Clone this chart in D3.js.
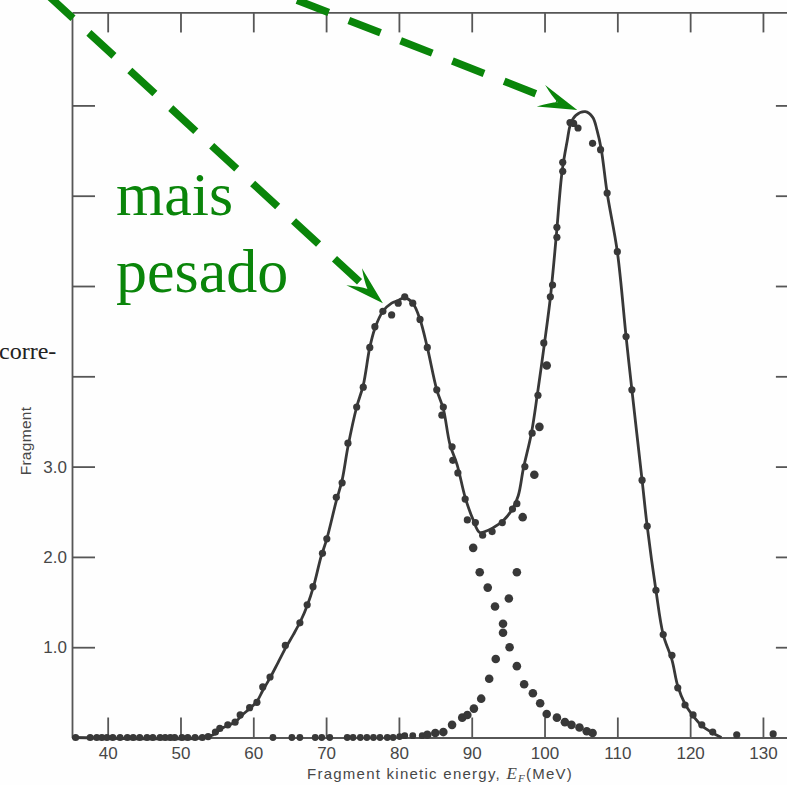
<!DOCTYPE html>
<html>
<head>
<meta charset="utf-8">
<script src="https://cdn.jsdelivr.net/npm/d3@7/dist/d3.min.js"></script>
<style>
  html, body { margin: 0; padding: 0; background: #fefefe; }
  svg { display: block; }
</style>
</head>
<body>
<svg id="chart" width="787" height="785"></svg>
<script>
// tick values
const xTicks = [40, 50, 60, 70, 80, 90, 100, 110, 120, 130];
const yTicks = [1, 2, 3, 4, 5, 6, 7];
const yTickLabels = ['1.0', '2.0', '3.0', '', '', '', ''];

// fitted total curve (E in MeV, relative yield)
const curveE = [35.1, 53.4, 54.5, 55.4, 56.4, 57.5, 58.5, 59.5, 60.5, 61.3, 62.3, 63.4, 64.5, 65.5, 66.5,
  67.4, 68.3, 69.3, 70.1, 71.4, 72.2, 73.0, 74.2, 75.1, 76.0, 76.7, 77.8, 79.0, 79.9, 80.8, 81.9, 82.9,
  83.9, 85.2, 86.1, 87.0, 88.0, 89.1, 90.2, 91.1, 92.1, 92.9, 94.3, 95.6, 96.4, 97.1, 98.2, 99.0, 100.0,
  100.8, 101.6, 102.4, 103.1, 103.6, 104.3, 105.6, 106.6, 107.2, 107.8, 108.6, 110.0, 111.2, 112.0,
  113.4, 114.1, 115.3, 116.3, 117.5, 118.3, 119.3, 120.4, 121.6, 123.1, 124.3];
const curveV = [0, 0, 0.03, 0.09, 0.13, 0.17, 0.25, 0.32, 0.40, 0.52, 0.66, 0.83, 1.00, 1.14, 1.29,
  1.46, 1.68, 2.00, 2.20, 2.62, 2.85, 3.22, 3.66, 3.90, 4.32, 4.53, 4.72, 4.81, 4.84, 4.87, 4.81, 4.63,
  4.32, 3.85, 3.64, 3.25, 3.02, 2.66, 2.41, 2.27, 2.29, 2.32, 2.40, 2.53, 2.68, 2.98, 3.37, 3.79, 4.37,
  4.87, 5.54, 6.26, 6.60, 6.80, 6.89, 6.93, 6.87, 6.73, 6.51, 6.03, 5.38, 4.44, 3.85,
  2.85, 2.34, 1.63, 1.14, 0.86, 0.57, 0.37, 0.24, 0.13, 0.05, 0];

// measured points on the total distribution
const sumE = [35.6, 37.6, 38.5, 39.2, 39.9, 40.7, 41.7, 42.7, 43.5, 44.4, 45.4, 46.2, 47.2, 47.9, 48.6,
  49.2, 50.2, 51.0, 52.0, 53.0, 53.8, 54.8, 55.4, 56.5, 57.5, 58.2, 59.5, 60.5, 61.3, 62.3, 64.4, 66.4,
  67.4, 68.2, 69.5, 70.1, 71.4, 72.2, 73.0, 74.2, 75.1, 76.0, 76.7, 77.8, 79.0, 79.9, 80.8, 81.9, 82.9,
  83.9, 85.2, 86.1, 85.9, 87.3, 87.4, 88.1, 89.1, 89.4, 90.5, 91.5, 92.8, 94.2, 95.6, 96.2, 97.3, 98.3,
  99.1, 99.9, 100.8, 101.1, 101.7, 101.7, 102.5, 102.5, 103.5, 104.0, 104.6, 106.6, 107.7, 108.6, 110.0,
  111.2, 112.0, 113.4, 114.1, 115.3, 116.3, 117.5, 118.3, 119.3, 120.4, 121.6, 123.1, 126.4, 131.4];
const sumV = [0, 0, 0, 0, 0, 0, 0, 0, 0, 0, 0, 0, 0, 0, 0,
  0, 0, 0, 0, 0, 0.01, 0.06, 0.10, 0.14, 0.17, 0.25, 0.33, 0.39, 0.56, 0.67, 1.02, 1.27,
  1.47, 1.67, 2.04, 2.20, 2.66, 2.82, 3.26, 3.66, 3.88, 4.32, 4.55, 4.72, 4.68, 4.81, 4.88, 4.81, 4.63,
  4.32, 3.85, 3.66, 3.57, 3.22, 3.07, 2.93, 2.64, 2.41, 2.38, 2.24, 2.28, 2.38, 2.53, 2.59, 3.00, 3.37,
  3.79, 4.37, 4.88, 5.01, 5.54, 5.65, 6.27, 6.37, 6.81, 6.80, 6.75, 6.58, 6.51, 6.03, 5.38,
  4.44, 3.85, 2.85, 2.34, 1.63, 1.14, 0.91, 0.55, 0.36, 0.25, 0.14, 0.06, 0.03, 0.04];

// heavy-fragment peak, right tail through the valley
const heavyE = [90.2, 91.1, 92.2, 93.2, 94.3, 95.2, 96.2, 97.2, 98.4, 99.4, 100.3, 101.7, 102.8, 103.7,
  104.8, 105.8, 106.6];
const heavyV = [2.10, 1.83, 1.66, 1.45, 1.26, 1.00, 0.79, 0.59, 0.49, 0.38, 0.26, 0.22, 0.17, 0.14,
  0.11, 0.07, 0.05];

// light-fragment peak, left tail through the valley
const lightE = [62.7, 65.3, 66.4, 68.5, 69.4, 70.5, 72.9, 73.7, 74.7, 75.6, 76.5, 77.4, 78.4, 79.2, 80.1,
  80.8, 81.9, 83.2, 83.9, 85.0, 86.1, 87.3, 88.7, 89.4, 90.3, 91.3, 92.4, 93.3, 94.3, 95.1, 96.2, 97.0,
  98.6, 99.3, 100.3];
const lightV = [0, 0, 0, 0, 0, 0, 0, 0, 0, 0, 0, 0, 0, 0, 0.01,
  0.02, 0.02, 0.02, 0.03, 0.05, 0.06, 0.14, 0.22, 0.25, 0.32, 0.43, 0.65, 0.87, 1.16, 1.54, 1.83, 2.44,
  2.91, 3.44, 4.12];

// annotation arrows, [start, tip] in data units
const arrowHeavy = [[31.8, 8.22], [77.8, 4.81]];
const arrowLight = [[58.9, 8.39], [104.5, 6.95]];

const svg = d3.select('#chart');
const INK = '#383838';
const AXIS = '#565656';
const GREEN = '#0a850a';

const x = d3.scaleLinear().domain([35.1, 134.8]).range([72, 797.9]);
const y = d3.scaleLinear().domain([0, 8.03]).range([737.5, 12.4]);

function styleAxis(g) {
  g.select('.domain').attr('stroke', AXIS).attr('stroke-width', 1.8);
  g.selectAll('.tick line').attr('stroke', AXIS).attr('stroke-width', 1.8);
  g.selectAll('.tick text')
    .attr('fill', '#474747')
    .style('font-family', '"Liberation Sans", Arial, sans-serif')
    .style('font-size', '17px');
}

svg.append('g')
  .attr('transform', `translate(0,${y(0)})`)
  .call(d3.axisBottom(x).tickValues(xTicks).tickSizeInner(-20).tickSizeOuter(0).tickPadding(9))
  .call(styleAxis);

svg.append('g')
  .attr('transform', `translate(0,${y(8.03)})`)
  .call(d3.axisTop(x).tickValues(xTicks).tickSizeInner(-20).tickSizeOuter(0).tickFormat(''))
  .call(styleAxis);

svg.append('g')
  .attr('transform', `translate(${x(35.1)},0)`)
  .call(d3.axisLeft(y).tickValues(yTicks).tickSizeInner(-23).tickSizeOuter(0).tickPadding(5)
    .tickFormat((d, i) => yTickLabels[i]))
  .call(styleAxis);

svg.append('g')
  .attr('transform', `translate(${x(134.8)},0)`)
  .call(d3.axisRight(y).tickValues(yTicks).tickSizeInner(-22).tickSizeOuter(0).tickFormat(''))
  .call(styleAxis);

// axis titles
svg.append('text')
  .attr('transform', `translate(31,441) rotate(-90)`)
  .attr('text-anchor', 'middle')
  .attr('fill', '#474747')
  .style('font-family', '"Liberation Sans", Arial, sans-serif')
  .style('font-size', '15.5px')
  .style('letter-spacing', '0.3px')
  .text('Fragment');

const xt = svg.append('text')
  .attr('x', 307).attr('y', 779)
  .attr('fill', '#474747')
  .style('font-family', '"Liberation Sans", Arial, sans-serif')
  .style('font-size', '15px')
  .style('letter-spacing', '1.25px');
xt.append('tspan').text('Fragment kinetic energy, ');
xt.append('tspan').style('font-family', '"Liberation Serif", serif').style('font-style', 'italic')
  .style('font-size', '17px').text('E');
xt.append('tspan').style('font-family', '"Liberation Serif", serif').style('font-style', 'italic')
  .style('font-size', '11px').attr('dy', 3).text('F');
xt.append('tspan').attr('dy', -3).text('(MeV)');

// page text bleeding in from the book
svg.append('text')
  .attr('x', -1).attr('y', 359)
  .attr('fill', '#222')
  .style('font-family', '"Liberation Serif", "Times New Roman", serif')
  .style('font-size', '24px')
  .text('corre-');

// fitted curve
const line = d3.line()
  .x(d => x(d[0]))
  .y(d => y(d[1]))
  .curve(d3.curveCatmullRom.alpha(0.5));

svg.append('path')
  .datum(curveE.map((e, i) => [e, curveV[i]]))
  .attr('d', line)
  .attr('fill', 'none')
  .attr('stroke', INK)
  .attr('stroke-width', 2.8)
  .attr('stroke-linejoin', 'round');

// data points
svg.append('g').selectAll('circle')
  .data(sumE.map((e, i) => [e, sumV[i]]))
  .join('circle')
  .attr('cx', d => x(d[0]))
  .attr('cy', d => y(d[1]))
  .attr('r', 3.6)
  .attr('fill', INK);

svg.append('g').selectAll('circle')
  .data(heavyE.map((e, i) => [e, heavyV[i]]).concat(lightE.map((e, i) => [e, lightV[i]])))
  .join('circle')
  .attr('cx', d => x(d[0]))
  .attr('cy', d => y(d[1]))
  .attr('r', d => d[1] < 0.03 ? 3.4 : 4.3)
  .attr('fill', INK);

// green annotations
function drawArrow(a) {
  const x0 = x(a[0][0]), y0 = y(a[0][1]);
  const x1 = x(a[1][0]), y1 = y(a[1][1]);
  const ang = Math.atan2(y1 - y0, x1 - x0);
  const notch = 22;
  svg.append('line')
    .attr('x1', x0).attr('y1', y0)
    .attr('x2', x1 - notch * Math.cos(ang)).attr('y2', y1 - notch * Math.sin(ang))
    .attr('stroke', GREEN)
    .attr('stroke-width', 7.5)
    .attr('stroke-dasharray', '34 21.6');
  svg.append('path')
    .attr('d', 'M0,0 L-39,-11.5 Q-28,-3 -21,0 Q-28,3 -39,11.5 Z')
    .attr('transform', `translate(${x1},${y1}) rotate(${ang * 180 / Math.PI})`)
    .attr('fill', GREEN);
}
drawArrow(arrowHeavy);
drawArrow(arrowLight);

const note = svg.append('text')
  .attr('fill', GREEN)
  .style('font-family', '"Liberation Serif", "Times New Roman", serif')
  .style('font-size', '62px');
note.append('tspan').attr('x', 116).attr('y', 215).text('mais');
note.append('tspan').attr('x', 116).attr('y', 292).text('pesado');
</script>
</body>
</html>
